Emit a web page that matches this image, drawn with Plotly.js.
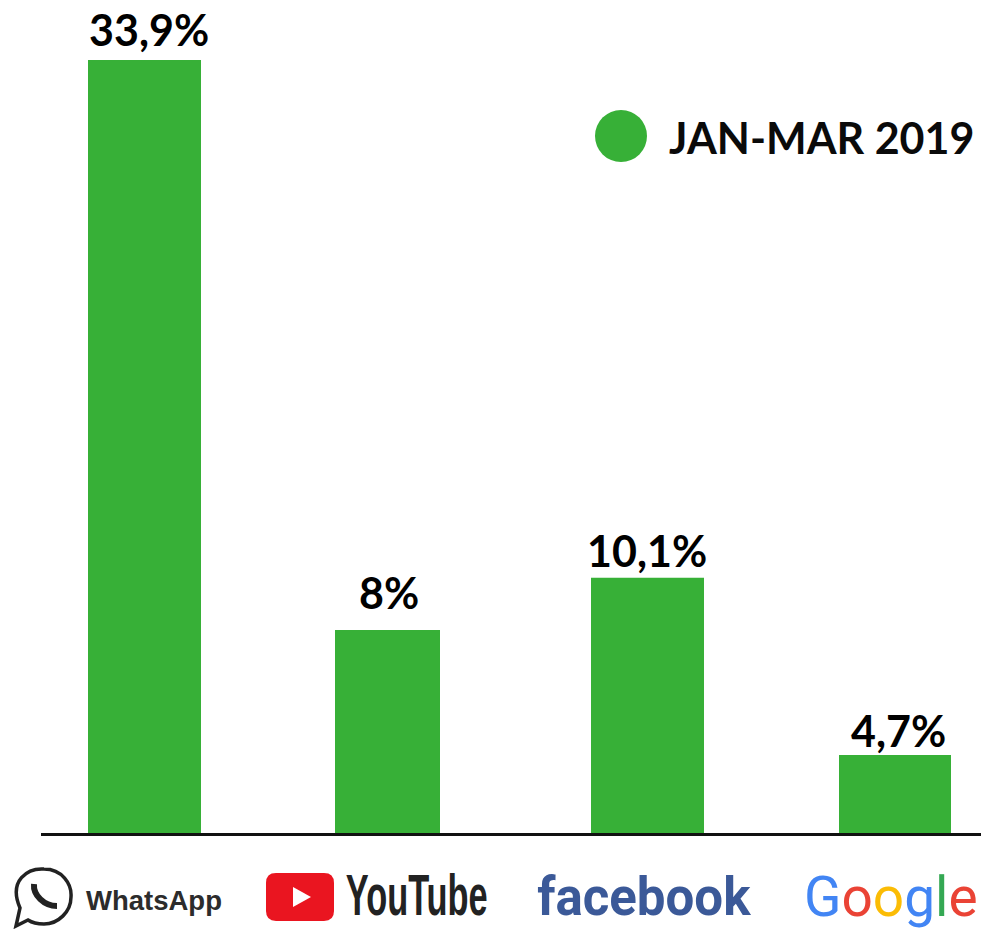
<!DOCTYPE html>
<html>
<head>
<meta charset="utf-8">
<script src="https://cdn.plot.ly/plotly-3.0.1.min.js"></script>
<style>html,body{margin:0;padding:0;background:#fff}</style>
</head>
<body>
<div id="chart" style="width:981px;height:929px"></div>
<script>
// Bar heights (the drawing is not to the scale of its printed labels)
const slots = [0, 0.972, 2.012, 3.002];
const barHeights = [33.9, 8.9, 11.2, 3.42];
const barLabels = ['33,9%', '8%', '10,1%', '4,7%'];
const barWidths = [0.452, 0.42, 0.452, 0.448];
const seriesName = 'JAN-MAR 2019';
const GREEN = '#37b037';

const W = 981, H = 929, L = 41, AXIS = 833;
const px = x => (x - L) / (W - L);
const py = y => (AXIS - y) / AXIS;
const P = (x, y) => px(x).toFixed(5) + ',' + py(y).toFixed(5);

function txt(text, x, y, size, color, family, weight) {
  return {
    text: text, xref: 'paper', yref: 'paper', x: px(x), y: py(y),
    xanchor: 'center', yanchor: 'middle', showarrow: false,
    font: {size: size, color: color, family: family, weight: weight || 'normal'}
  };
}
const VALUE_FONT = 'Lato, "Open Sans", sans-serif';
const labelCentres = [[149, 29], [389, 592], [647, 550], [898.5, 730]];

const annotations = barLabels.map((t, i) =>
  txt(t, labelCentres[i][0], labelCentres[i][1], 43, '#000', VALUE_FONT, 'bold'));
annotations.push(txt(seriesName, 821, 137, 43, '#0a0a0a', VALUE_FONT, 'bold'));
annotations.push(txt('WhatsApp', 153.5, 900, 27.5, '#2c2c2c', '"Liberation Sans", Arial, sans-serif', 'bold'));
annotations.push(txt('YouTube', 416, 895, 58, '#222', '"Liberation Sans", Arial, sans-serif', 'bold'));
annotations.push(txt('facebook', 644, 897, 53, '#3b5998', 'Roboto, "Open Sans", sans-serif', 'bold'));
annotations.push(txt(
  '<span style="color:#4285f4">G</span><span style="color:#ea4335">o</span>' +
  '<span style="color:#fbbc05">o</span><span style="color:#4285f4">g</span>' +
  '<span style="color:#34a853">l</span><span style="color:#ea4335">e</span>',
  890.5, 897, 55, '#4285f4', 'Roboto, "Open Sans", sans-serif', 'normal'));

const shapes = [
  // legend dot
  {type: 'circle', xref: 'paper', yref: 'paper', x0: px(595), x1: px(647), y0: py(162), y1: py(110),
   fillcolor: GREEN, line: {width: 0}},
  // WhatsApp icon: bubble with tail
  {type: 'path', xref: 'paper', yref: 'paper', line: {color: '#222', width: 3.5}, fillcolor: 'rgba(0,0,0,0)',
   path: 'M' + P(20, 908) + ' C' + P(8, 880) + ' ' + P(28, 868) + ' ' + P(44, 869) +
         ' C' + P(62, 869) + ' ' + P(72, 884) + ' ' + P(71, 897) +
         ' C' + P(71, 912) + ' ' + P(58, 924) + ' ' + P(44, 924) +
         ' C' + P(36, 924) + ' ' + P(31, 922) + ' ' + P(28, 920) +
         ' L' + P(16, 926) + ' Z'},
  // WhatsApp icon: handset
  {type: 'path', xref: 'paper', yref: 'paper', line: {color: '#222', width: 6}, fillcolor: 'rgba(0,0,0,0)',
   path: 'M' + P(34, 884) + ' C' + P(33, 895) + ' ' + P(44, 906) + ' ' + P(57, 906)},
  // YouTube icon
  {type: 'path', xref: 'paper', yref: 'paper', line: {width: 0}, fillcolor: '#ea1520',
   path: 'M' + P(276, 873) + ' L' + P(324, 873) + ' Q' + P(334, 873) + ' ' + P(334, 883) +
         ' L' + P(334, 911) + ' Q' + P(334, 921) + ' ' + P(324, 921) +
         ' L' + P(276, 921) + ' Q' + P(266, 921) + ' ' + P(266, 911) +
         ' L' + P(266, 883) + ' Q' + P(266, 873) + ' ' + P(276, 873) + ' Z'},
  {type: 'path', xref: 'paper', yref: 'paper', line: {width: 0}, fillcolor: '#ffffff',
   path: 'M' + P(293, 887) + ' L' + P(311, 897) + ' L' + P(293, 907) + ' Z'}
];

// Wordmarks squeezed horizontally to the widths they have in the picture
const squeeze = {YouTube: 142, facebook: 214};

Plotly.newPlot('chart', [{
  type: 'bar', name: seriesName, x: slots, y: barHeights, width: barWidths,
  marker: {color: GREEN, line: {width: 0}}, hoverinfo: 'skip'
}], {
  width: W, height: H,
  margin: {l: L, r: 0, t: 0, b: H - AXIS, pad: 0},
  paper_bgcolor: '#fff', plot_bgcolor: '#fff',
  showlegend: false,
  xaxis: {range: [-0.414, 3.346], showticklabels: false, ticks: '', showgrid: false, zeroline: false,
          showline: true, linecolor: '#111', linewidth: 3, fixedrange: true},
  yaxis: {range: [0, 36.535], visible: false, fixedrange: true},
  annotations: annotations, shapes: shapes
}, {displayModeBar: false, staticPlot: true}).then(function (gd) {
  gd.querySelectorAll('.annotation-text').forEach(function (t) {
    const len = squeeze[t.textContent];
    if (len) {
      const b = t.getBBox();
      const cx = b.x + b.width / 2;
      const sx = len / b.width;
      t.setAttribute('transform', 'translate(' + cx + ',0) scale(' + sx + ',1) translate(' + (-cx) + ',0)');
    }
  });
});
</script>
</body>
</html>
